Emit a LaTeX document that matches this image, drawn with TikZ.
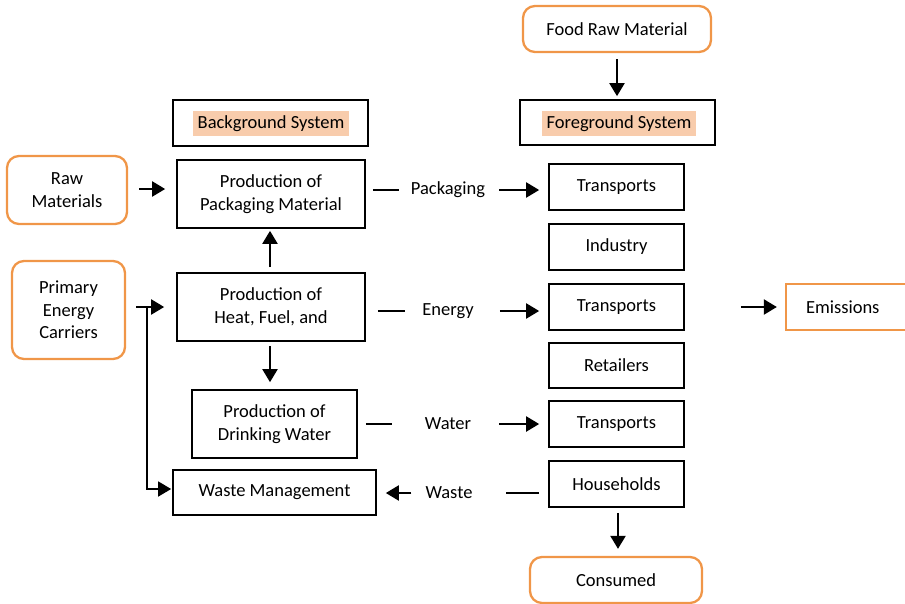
\documentclass[tikz,border=0pt]{standalone}
\usepackage{fontspec}
\setmainfont{Carlito}
\usetikzlibrary{arrows.meta}
\definecolor{orng}{RGB}{240,150,72}
\definecolor{peach}{RGB}{248,204,172}
\begin{document}
\begin{tikzpicture}[x=1pt,y=-1pt,
  font=\fontsize{18.5}{22.5}\selectfont,
  box/.style={draw, line width=1.7pt, align=center, inner sep=0pt},
  obox/.style={draw=orng, line width=2.3pt, rounded corners=12pt, align=center, inner sep=0pt},
  sbox/.style={draw=orng, line width=2.3pt, align=center, inner sep=0pt},
  hl/.style={fill=peach, inner xsep=5pt, inner ysep=0pt, minimum height=25pt},
  lbl/.style={inner sep=0pt},
  ln/.style={line width=1.4pt},
  arr/.style={line width=2.2pt, -{Triangle[length=13pt,width=15pt]}}]
\useasboundingbox (0,0) rectangle (905,603);

% orange boxes
\node[obox, minimum width=188pt, minimum height=46pt] (food) at (617,29) {Food Raw Material};
\node[obox, minimum width=120pt, minimum height=68pt] (raw) at (67,190) {Raw\\Materials};
\node[obox, minimum width=113pt, minimum height=98pt] (pec) at (68.5,310) {Primary\\Energy\\Carriers};
\node[sbox, minimum width=128pt, minimum height=46pt, text width=120pt, align=left] (emis) at (850,307) {\hspace*{16pt}Emissions};
\node[obox, minimum width=172pt, minimum height=46pt] (cons) at (616,580) {Consumed};

% system headers
\node[box, minimum width=195pt, minimum height=46pt] (bg) at (270.5,123) {};
\node[hl] (bgl) at (271,123.5) {Background System};
\node[box, minimum width=195pt, minimum height=45pt] (fg) at (617.5,122.5) {};
\node[hl] (fgl) at (619,123.5) {Foreground System};

% background processes
\node[box, minimum width=188pt, minimum height=68pt] (pack) at (271,194) {Production of\\Packaging Material};
\node[box, minimum width=188pt, minimum height=68pt] (heat) at (271,307) {Production of\\Heat, Fuel, and};
\node[box, minimum width=165pt, minimum height=68pt] (dw) at (274.5,424) {Production of\\Drinking Water};
\node[box, minimum width=203pt, minimum height=45pt] (wm) at (274.5,492.5) {Waste Management};

% foreground processes
\node[box, minimum width=135pt, minimum height=46pt] (t1) at (616.5,187) {Transports};
\node[box, minimum width=135pt, minimum height=46pt] (ind) at (616.5,247) {Industry};
\node[box, minimum width=135pt, minimum height=46pt] (t2) at (616.5,307) {Transports};
\node[box, minimum width=135pt, minimum height=45pt] (ret) at (616.5,365.5) {Retailers};
\node[box, minimum width=135pt, minimum height=46pt] (t3) at (616.5,424) {Transports};
\node[box, minimum width=135pt, minimum height=46pt] (hh) at (616.5,484) {Households};

% flow labels
\node[lbl] (lp) at (448,190) {Packaging};
\node[lbl] (le) at (448,311) {Energy};
\node[lbl] (lw) at (448,424) {Water};
\node[lbl] (lx) at (449,493) {Waste};

% connectors
\draw[arr, shorten <=6pt, shorten >=3pt] (food.south) -- (food.south |- fg.north);
\draw[arr, shorten <=11pt, shorten >=11pt] (raw.east |- 0,189) -- (pack.west |- 0,189);
\draw[arr, shorten <=5pt, shorten >=2pt] (heat.north -| 270,0) -- (pack.south -| 270,0);
\draw[arr, shorten <=4pt, shorten >=7pt] (heat.south -| 270,0) -- (dw.north -| 270,0);

\draw[ln, shorten <=7pt, shorten >=12pt] (pack.east |- lp) -- (lp.west);
\draw[arr, shorten <=14pt, shorten >=9pt] (lp.east) -- (lp -| t1.west);
\draw[ln, shorten <=12pt, shorten >=17pt] (heat.east |- le) -- (le.west);
\draw[arr, shorten <=26pt, shorten >=9pt] (le.east) -- (le -| t2.west);
\draw[ln, shorten <=8pt, shorten >=33pt] (dw.east |- lw) -- (lw.west);
\draw[arr, shorten <=28pt, shorten >=9pt] (lw.east) -- (lw -| t3.west);
\draw[ln, shorten <=9pt, shorten >=33pt] (hh.west |- lx) -- (lx.east);
\draw[arr, shorten <=14pt, shorten >=9pt] (lx.west) -- (lx -| wm.east);

\draw[arr, shorten <=56pt, shorten >=8pt] (t2.east) -- (emis.west);
\draw[arr, shorten <=5pt, shorten >=7pt] (hh.south -| 618,0) -- (cons.north -| 618,0);

\coordinate (j) at (147,307);
\draw[arr, shorten <=10pt, shorten >=12pt] (pec.east |- j) -- (heat.west |- j);
\draw[arr, line width=1.6pt, shorten >=1pt] (j) |- (wm.west |- 0,489);
\end{tikzpicture}
\end{document}
